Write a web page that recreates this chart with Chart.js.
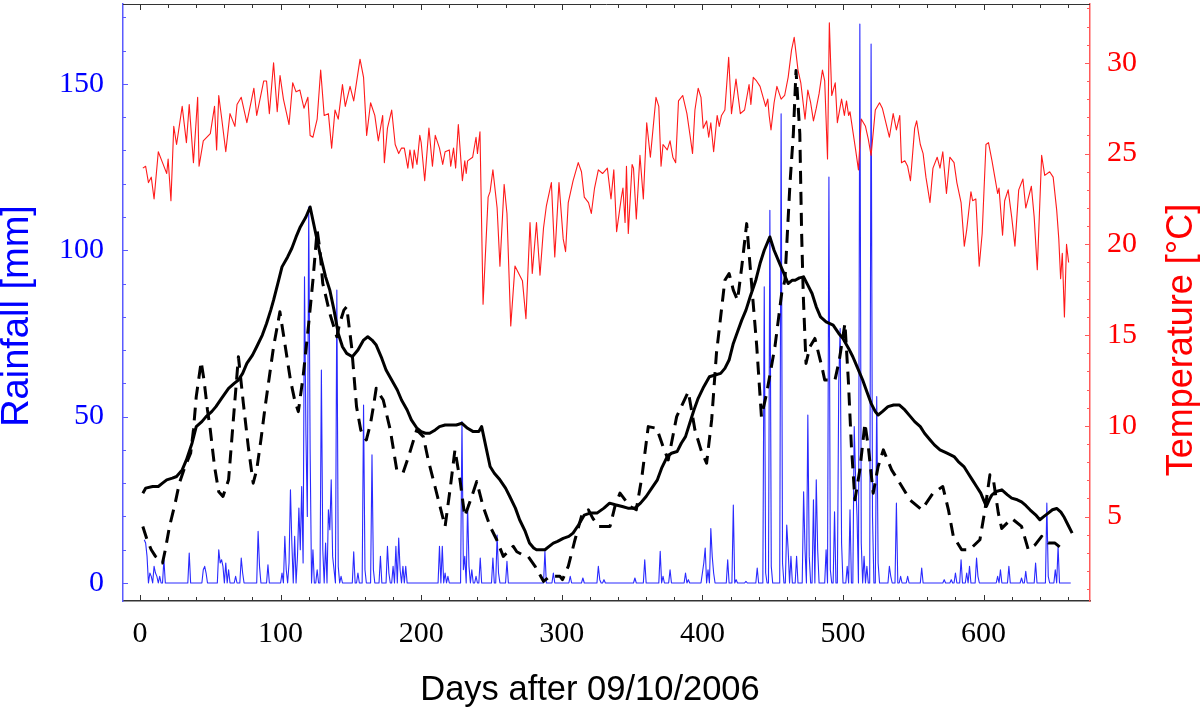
<!DOCTYPE html>
<html>
<head>
<meta charset="utf-8">
<script src="https://cdn.jsdelivr.net/npm/chart.js@4.4.0/dist/chart.umd.min.js"></script>
<style>
  body { margin: 0; background: #fff; }
  #wrap { width: 1200px; height: 713px; }
</style>
</head>
<body>
<div id="wrap"><canvas id="chart" width="1200" height="713"></canvas></div>
<script>
// tick labels
const dayTicks = [0, 100, 200, 300, 400, 500, 600];
const rainTicks = [0, 50, 100, 150];
const tempTicks = [5, 10, 15, 20, 25, 30];

// daily rainfall [mm], only rainy days listed as [day, mm]
const rainDays = [
  [3,13],[4,12],[5,8],[7,3],[8,2],[10,5],[11,3],[12,2],[14,2],[17,7],[35,9],[45,4],[46,5],[47,3],
  [56,10],[57,6],[58,7],[59,5],[61,6],[63,4],[68,2],[72,7.5],[73,3],[84,15.5],[85,5],[91,5.5],
  [101,3],[103,14],[104,4],[106,6],[107,28],[108,12],[110,14],[112,8],[113,22.5],[114,10],[115,29],
  [116,6],[117,92],[118,45],[119,20],[120,113],[121,40],[123,10],[126,4],[129,64],[130,10],[132,12],
  [134,22],[135,16],[136,31],[137,8],[138,4],[140,88],[141,5],[143,2],[152,9.4],[155,3],[159,53.5],
  [160,4],[165,38.5],[166,4],[171,8],[176,11],[177,3],[180,5],[182,11],[184,13.5],[185,4],[187,5],
  [189,5],[213,11],[215,11],[217,3],[219,2],[229,48.5],[230,4],[231,8],[233,23.4],[234,5],[236,4],
  [239,2],[242,7.5],[251,7.5],[254,14.4],[255,3],[261,6.5],[288,9.5],[294,3],[306,2],[315,1.5],
  [326,5],[327,1],[330,1],[352,1.5],[359,7],[370,9.5],[372,2],[377,4],[388,3],[390,1],[400,3],
  [401,6],[402,10.5],[404,4],[406,16.4],[407,8],[408,3],[418,7],[422,23.4],[424,1],[431,0.5],
  [439,4.5],[444,89],[445,3],[448,112],[449,5],[456,141],[457,6],[460,17.4],[461,10],[463,8],
  [467,8],[472,27.4],[473,10],[475,50.5],[476,8],[479,25],[481,31],[482,10],[488,10],[490,122],
  [491,4],[494,21.4],[497,60],[498,76.5],[499,12],[503,5],[505,22],[508,47],[509,31],[510,20],
  [512,168],[513,12],[515,8],[517,5],[520,162],[521,20],[524,56],[525,6],[533,5],[534,2],[538,24],
  [541,2],[546,2],[556,4.5],[572,1],[577,1],[580,3],[584,7],[588,3],[590,5],[595,7.5],[596,2],
  [610,2],[612,4],[618,5],[627,1.5],[630,3.5],[637,6],[645,24],[646,2],[651,4],[653,11]
];
const rainFirstDay = 3;
const rainLastDay = 662;

// solid black curve [day, value on rainfall axis]
const solidLine = [
  [2,27],[4,28.5],[9,29],[13,29],[16,30],[19,31],[23,31.5],[26,32],[30,34],[33,37],[37,42],[40,47],
  [44,48.5],[47,50],[51,51.5],[54,53],[58,55.5],[63,58.5],[67,60],[70,61],[73,63],[76,66],[80,68.5],
  [83,71],[87,74.5],[90,78],[93,82],[95,85],[98,90],[101,95],[105,98],[108,100.6],[111,104],[114,107],
  [118,110],[121,113],[124,107],[128,99],[132,92],[135,88],[138,82],[141,75],[144,71],[147,69],[151,68],
  [155,70],[159,73],[162,74],[165,73],[168,71.5],[172,67.5],[175,64],[179,61],[183,58],[186,55],[190,52],
  [193,49],[197,46.5],[200,45.5],[203,45],[206,45],[210,46],[213,47],[217,47.5],[221,47.5],[225,47.5],
  [229,48],[233,46.5],[237,45.5],[241,45.5],[243,47],[246,41],[249,35],[252,33],[256,31],[260,28.5],
  [263,26],[267,22.5],[270,19],[274,15.5],[277,12],[280,10.5],[282,10],[285,10],[288,10],[291,11],
  [294,12],[297,12.5],[301,13.4],[305,14],[308,15],[312,17.5],[316,20.4],[320,21],[325,21],[330,22.5],
  [334,24],[338,23.5],[343,23],[347,22.5],[352,22.5],[356,24],[360,26],[364,28.5],[368,31],[371,34.5],
  [375,38],[378,39],[382,39.5],[385,42],[388,44],[391,48],[394,52],[397,55.5],[401,59],[405,62],
  [409,62.5],[413,63],[416,64.5],[419,67],[422,72],[425,75.5],[428,79],[431,82],[434,86],[438,91],
  [441,96],[444,100],[448,104],[451,100],[455,96],[458,93],[461,90],[464,91],[466,91],[469,91.7],
  [472,92],[475,89.5],[478,87],[481,83],[484,80],[488,78.5],[493,77.5],[497,75],[500,73.5],[504,70.5],
  [507,68],[510,65],[514,61],[517,57.5],[520,54],[523,51.5],[525,50.5],[528,51.5],[532,53],[536,53.5],
  [540,53.5],[544,52],[548,50],[551,48.5],[555,47],[558,45],[562,43],[565,41.5],[569,40],[574,39],
  [579,38],[582,36.5],[586,35],[589,33],[592,31],[595,29],[598,27],[600,25],[602,23],[604,25],[606,26.5],
  [609,27.5],[613,28],[617,26.5],[620,25.5],[624,25],[627,24.4],[630,23.3],[633,22],[637,20.5],[640,19],
  [643,20],[646,21],[649,22],[652,22.4],[655,21.3],[657,20],[660,17.5],[663,15]
];

// dashed black curve [day, value on rainfall axis]
const dashedLine = [
  [2,17],[5,13],[8,10],[11,8],[13,7.4],[16,6],[18,10],[21,17],[25,24],[28,30],[32,35],[36,39],[38,46],
  [40,56],[42,62],[43.5,66.5],[45.5,61],[48,52],[50,46],[53,35],[56,27.4],[59,26],[63,31],[66,47],[70,68],
  [73.5,54],[77,41],[80.5,30],[83,34],[86,43],[89,53],[92,62],[95,71],[99.5,81.5],[103,72],[107,61],
  [110,55],[112.6,51.5],[116,62],[120,78],[123,91],[126,106],[128,100],[130,90],[132.8,85],[135,81],
  [140,74],[142,78],[145,82],[147,83],[150.5,71],[154,53],[157,46],[159,44],[161,43],[164,48],[166,53],
  [168,58.5],[170,57],[173,55],[178,46],[182.6,34],[187,33],[191,38],[196.8,46],[201.5,44],[205,37],
  [209.8,29],[213.4,23],[217,17],[220.5,28],[224,40],[227.6,31],[231,20],[236,26],[239.5,30.5],[244,23],
  [249,17],[253.7,13],[258.4,8],[262,9.5],[265.5,11],[268,9.4],[272,8.5],[276,8],[281,5],[287,0.5],
  [291.6,2],[296,2],[298.7,2],[300.5,1],[304.6,5],[309.4,13],[314,20],[318.9,22],[322,19.5],[326,17],
  [334.3,17],[337.8,23],[341.4,27],[345,25],[348.5,23],[353,22],[357,32],[361.5,47],[367.5,46.5],[372,41],
  [375.7,37],[381.7,50],[390,57.5],[394.7,46],[399,40],[403,36],[406.6,49],[410,69],[413,80],[416,91],
  [419,93],[422,88],[425,85],[428,95],[431.5,108],[434,95],[438.6,71.5],[442,50],[445.7,57],[451.6,71],
  [456.4,87],[458.7,91],[462.3,120],[464.7,135],[466.6,154],[469.3,135],[470.6,105],[471.8,86],[473.7,66],
  [476.5,71],[480,73.5],[485,65],[487,61],[494.3,61],[497.4,67],[501.4,78],[503.8,61],[506,41],[508.5,25],
  [512,34],[515.6,48],[518,41],[521.5,27],[525,35],[528.7,40],[534.6,34],[540.5,30],[547.6,25],[556,22],
  [564,27],[571,29],[575,22],[578.5,14],[584.4,10],[590,10],[597.4,13],[601,22],[604.5,32.5],[607,31],
  [610.5,21],[612.9,16.4],[620,19.4],[627,17],[631.8,10],[636.5,11.4],[641.3,14],[646,12],[650.8,12],
  [655.5,10.4]
];

// daily temperature [day, degC]
const tempLine = [
  [2,24.2],[4,24.3],[6,23.4],[8,23.7],[10,22.5],[13,25.1],[16,24.5],[19,23.9],[20,24.7],[22,22.4],
  [24,26.5],[26,25.5],[30,27.6],[33,25.6],[35,27.7],[38,24.5],[41,28.1],[42,24.3],[45,25.7],[50,26.1],
  [53,27.6],[54.5,25.2],[56,28.2],[58,27],[61,25.1],[64,27.2],[67.5,26.5],[69,27.7],[72,28.1],[76,26.7],
  [81,28.6],[83,27.1],[88,29],[90,29],[92,27.2],[95,30],[97.6,27.3],[99.6,29.3],[102,28],[106,26.6],
  [108.6,28.9],[111,28.4],[113.7,28.5],[116.6,27.5],[119.4,28.1],[121,26],[123,25.9],[126,26.9],
  [128.5,29.6],[131,27.1],[134,27.2],[136.3,25.3],[138.7,27.4],[141,26.9],[144,28.8],[146,27.6],
  [149.4,28.7],[152,27.9],[156.5,30.2],[159,29.2],[161.2,26],[164,27.8],[167,27.1],[169.5,25.7],
  [172.6,27.1],[173.8,24.5],[176,26.4],[179,27.4],[181.5,25.5],[184,25],[186,25.3],[188,25.3],
  [190.5,24.2],[192,25.2],[194,24.2],[195,25.2],[197,24.4],[199,26],[200,25.6],[202.5,23.5],[205.5,26.4],
  [208,24.3],[210,26],[213,25.3],[215.3,24.4],[217,25.1],[220,25.2],[221,24.3],[223,25.3],[224.5,24.2],
  [226.4,26.6],[229.3,23.5],[231,24.6],[232,23.9],[233,24.6],[236.6,24.8],[239,25.9],[240,25],
  [241.8,26.2],[244,16.7],[247.6,22.6],[249,22.9],[251,24.1],[254,22],[256,18.8],[259,23.3],[261,21.7],
  [263.7,15.5],[266.7,18.8],[270,18.3],[272,18],[274.5,15.9],[277.4,21.2],[279,18.4],[282,21.2],
  [284.5,18.3],[287,20.9],[289,22.1],[292.6,23.4],[295,19.3],[298,23.4],[301,20.3],[302.7,19.6],
  [304.6,22.3],[308,23.5],[311.7,24.5],[314,24],[316,22.6],[319,22.3],[321,21.7],[323.3,23.1],[326,24.1],
  [329,23.9],[332.4,24.2],[335,22.5],[337,24.1],[339,20.7],[342.4,22.6],[343.5,23.1],[345,21.2],
  [346,24.3],[347.3,20.6],[350,24.4],[351,24.2],[353,21.4],[355.6,24.9],[358,22.5],[360.4,26.7],
  [363,24.8],[367,28.1],[369,27.6],[370.6,24.3],[372,25.5],[375,25.2],[377,25.7],[379,24.8],[381,24.5],
  [383,27.9],[386,28.2],[389,27.2],[391.4,25.9],[393,25],[394.7,27.4],[397,28.6],[399,28.1],[400.6,26.4],
  [403,26.8],[404.5,25.9],[406,26.7],[408,25.1],[410.5,27.1],[412,26.5],[413.6,27.1],[416,27.4],
  [418.7,30.3],[420.7,27.2],[423.9,29.1],[427,27.2],[430,27.4],[433.2,28.8],[434.5,27.7],[436.2,29.2],
  [438.5,29],[441,28.7],[445,27.6],[446.5,28],[447.5,27.1],[448.8,26.3],[451,27.8],[453,28.7],[456,28],
  [458.5,28.2],[461,29.2],[463.4,30.7],[465.3,31.4],[468,29.6],[470,28.9],[473,26.9],[475,28.5],
  [477,27.8],[479,26.8],[481,27.5],[483,28.3],[485.4,29.6],[487,29],[489,24.7],[490.3,32.2],[492,28.2],
  [494.5,28.9],[496,26.7],[499,28],[501,27.1],[502.5,27.9],[504,27.1],[505,27.3],[509,25.2],[511,24.1],
  [513,26.9],[516,26.5],[518,25.8],[520,24.9],[523,27.4],[526,27.8],[528,27.5],[533,25.9],[535.7,27.2],
  [538,26.3],[540.4,27.1],[541.6,24.5],[544,24.6],[546,24.3],[548,23.5],[551,26.4],[552.4,26.8],
  [555,25.5],[557,25],[559,23.7],[561.9,22.3],[564,24.2],[567,24.8],[569,24.2],[571,25.1],[573.6,22.8],
  [576,24.8],[579,24.5],[581,23.4],[584,22.3],[586.3,19.9],[588,20.8],[591,22.9],[592.2,22.4],
  [594.5,22.5],[596.9,18.8],[599,20.6],[601.7,25.5],[603.5,25.6],[606,24.6],[608,23.7],[610,22.8],
  [611,23.1],[613.5,20.5],[615,22.4],[617.5,23],[620,21.5],[622.3,19.9],[625,23],[628,23.6],[630,22],
  [634,23.2],[636,21.5],[638.2,18.6],[641.3,24.9],[643.5,23.8],[647,24],[649.5,23.7],[652,21.9],
  [653.5,20.3],[654.8,18.1],[656,19.5],[657.5,16],[659,20],[660.5,19]
];

const toPts = arr => arr.map(p => ({ x: p[0], y: p[1] }));

// rainfall: one point per day, dry days are 0
const rainMap = {};
rainDays.forEach(p => { rainMap[p[0]] = p[1]; });
const rainPts = [];
for (let d = rainFirstDay; d <= rainLastDay; d++) {
  rainPts.push({ x: d, y: rainMap[d] || 0 });
}

const serif = 'Liberation Serif, Times New Roman, serif';
const sans = 'Liberation Sans, Arial, sans-serif';

// no extra room for end labels, the plot box is fixed
function noPad(s) {
  s.paddingTop = 0;
  s.paddingBottom = 0;
  s.paddingLeft = 0;
  s.paddingRight = 0;
}

// inward ticks, top frame line and axis titles
const frame = {
  id: 'frame',
  afterDraw(chart) {
    const { ctx, chartArea: a, scales } = chart;
    ctx.save();
    ctx.lineWidth = 1;

    ctx.strokeStyle = '#333';
    ctx.beginPath();
    ctx.moveTo(a.left, a.top + 0.5);
    ctx.lineTo(a.right, a.top + 0.5);
    ctx.stroke();

    ctx.beginPath();
    for (let d = 0; d <= 660; d += 20) {
      const px = Math.round(scales.x.getPixelForValue(d)) + 0.5;
      const len = d % 100 === 0 ? 6 : 4;
      ctx.moveTo(px, a.bottom);
      ctx.lineTo(px, a.bottom - len);
      ctx.moveTo(px, a.top);
      ctx.lineTo(px, a.top + len);
    }
    ctx.stroke();

    ctx.strokeStyle = '#5a5aff';
    ctx.beginPath();
    for (let v = 0; v <= 170; v += 10) {
      const py = Math.round(scales.y.getPixelForValue(v)) + 0.5;
      ctx.moveTo(a.left, py);
      ctx.lineTo(a.left + (v % 50 === 0 ? 5 : 3), py);
    }
    ctx.stroke();

    ctx.strokeStyle = '#ff5a5a';
    ctx.beginPath();
    for (let v = 1; v <= 33; v += 1) {
      const py = Math.round(scales.y2.getPixelForValue(v)) + 0.5;
      ctx.moveTo(a.right, py);
      ctx.lineTo(a.right - (v % 5 === 0 ? 5 : 3), py);
    }
    ctx.stroke();

    ctx.textAlign = 'center';
    ctx.textBaseline = 'middle';

    ctx.fillStyle = '#0000ff';
    ctx.font = '38px ' + sans;
    ctx.save();
    ctx.translate(18, 316);
    ctx.rotate(-Math.PI / 2);
    ctx.fillText('Rainfall [mm]', 0, 0);
    ctx.restore();

    ctx.fillStyle = '#ff0000';
    ctx.font = '36px ' + sans;
    ctx.save();
    ctx.translate(1182, 340);
    ctx.rotate(-Math.PI / 2);
    ctx.fillText('Temperature [°C]', 0, 0);
    ctx.restore();

    ctx.fillStyle = '#000';
    ctx.font = '34.5px ' + sans;
    ctx.fillText('Days after 09/10/2006', 590, 690);
    ctx.restore();
  }
};

new Chart(document.getElementById('chart'), {
  type: 'line',
  data: {
    datasets: [
      {
        label: 'solid',
        data: toPts(solidLine),
        yAxisID: 'y',
        borderColor: '#000',
        borderWidth: 3,
        order: 0
      },
      {
        label: 'dashed',
        data: toPts(dashedLine),
        yAxisID: 'y',
        borderColor: '#000',
        borderWidth: 3,
        borderDash: [13, 8],
        order: 1
      },
      {
        label: 'Temperature',
        data: toPts(tempLine),
        yAxisID: 'y2',
        borderColor: '#ff1a1a',
        borderWidth: 1.1,
        order: 2
      },
      {
        label: 'Rainfall',
        data: rainPts,
        yAxisID: 'y',
        borderColor: '#2a2aff',
        borderWidth: 1.1,
        order: 3
      }
    ]
  },
  options: {
    responsive: false,
    animation: false,
    devicePixelRatio: 1,
    layout: { padding: { top: 4, left: 0, right: 0, bottom: 0 } },
    elements: {
      point: { radius: 0, hoverRadius: 0 },
      line: { tension: 0, fill: false, borderCapStyle: 'butt', borderJoinStyle: 'round' }
    },
    plugins: { legend: { display: false }, tooltip: { enabled: false } },
    scales: {
      x: {
        type: 'linear',
        position: 'bottom',
        min: -12.1,
        max: 675.7,
        afterBuildTicks: s => { s.ticks = dayTicks.map(v => ({ value: v })); },
        afterFit: s => { s.height = 112; noPad(s); },
        grid: { display: false },
        border: { color: '#333', width: 1.5 },
        ticks: { color: '#000', font: { family: serif, size: 30 }, padding: 7, maxRotation: 0, autoSkip: false }
      },
      y: {
        position: 'left',
        min: -5.41,
        max: 174,
        afterBuildTicks: s => { s.ticks = rainTicks.map(v => ({ value: v })); },
        afterFit: s => { s.width = 123; noPad(s); },
        grid: { display: false },
        border: { color: '#5a5aff', width: 1.5 },
        ticks: { color: '#0000ff', font: { family: serif, size: 30 }, padding: 11 }
      },
      y2: {
        position: 'right',
        min: 0.35,
        max: 33.24,
        afterBuildTicks: s => { s.ticks = tempTicks.map(v => ({ value: v })); },
        afterFit: s => { s.width = 110; noPad(s); },
        grid: { display: false },
        border: { color: '#ff5a5a', width: 1.5 },
        ticks: { color: '#ff0000', font: { family: serif, size: 30 }, padding: 9 }
      }
    }
  },
  plugins: [frame]
});
</script>
</body>
</html>
